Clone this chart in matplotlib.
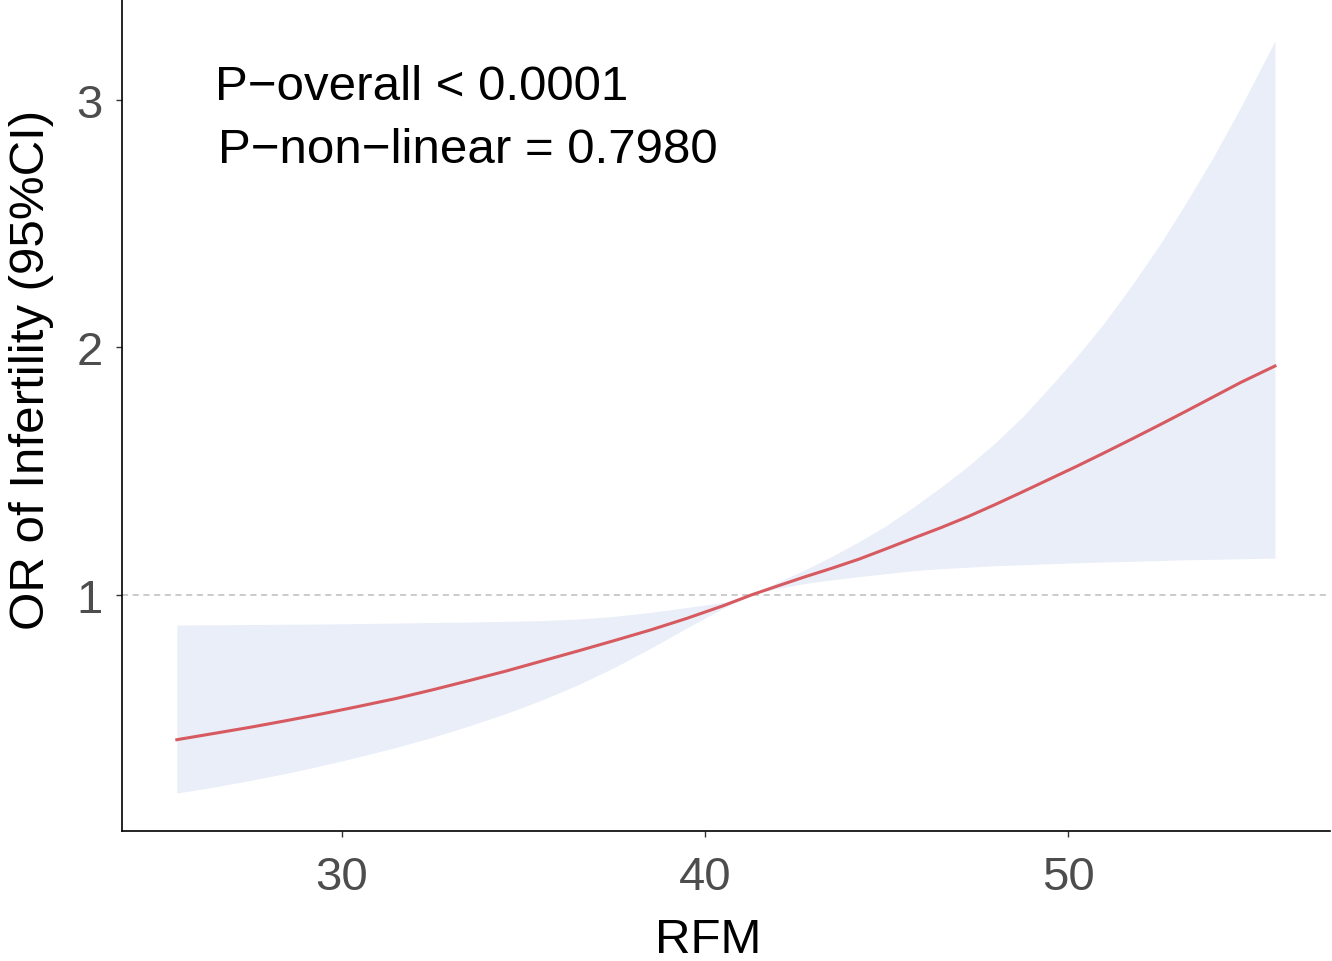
import matplotlib.pyplot as plt

# values
rfm = [25.45, 26.5, 27.5, 28.5, 29.5, 30.5, 31.5, 32.5, 33.5, 34.5, 35.5, 36.5,
       37.5, 38.5, 39.5, 40.5, 41.3, 42, 42.75, 43.5, 44.25, 45, 45.75, 46.5,
       47.25, 48, 48.75, 49.5, 50.25, 51, 51.75, 52.5, 53.25, 54, 54.75, 55.7]
odds = [0.413, 0.439, 0.464, 0.491, 0.519, 0.549, 0.580, 0.615, 0.652, 0.690, 0.731, 0.772,
        0.814, 0.857, 0.904, 0.955, 1.000, 1.035, 1.072, 1.107, 1.144, 1.186, 1.229, 1.271,
        1.316, 1.365, 1.416, 1.468, 1.520, 1.574, 1.629, 1.685, 1.742, 1.800, 1.858, 1.925]
lower = [0.197, 0.222, 0.249, 0.278, 0.310, 0.345, 0.382, 0.423, 0.469, 0.518, 0.573, 0.635,
         0.705, 0.783, 0.865, 0.945, 1.000, 1.025, 1.045, 1.060, 1.073, 1.085, 1.097, 1.105,
         1.111, 1.117, 1.121, 1.125, 1.129, 1.132, 1.135, 1.138, 1.141, 1.143, 1.145, 1.148]
upper = [0.877, 0.878, 0.879, 0.880, 0.881, 0.883, 0.885, 0.887, 0.889, 0.892, 0.895, 0.901,
         0.912, 0.928, 0.948, 0.968, 1.000, 1.050, 1.100, 1.155, 1.215, 1.280, 1.355, 1.435,
         1.520, 1.615, 1.720, 1.840, 1.965, 2.100, 2.250, 2.410, 2.585, 2.770, 2.970, 3.240]

p_text = ["P\u2212overall < 0.0001", "P\u2212non\u2212linear = 0.7980"]

plt.rcParams['font.family'] = ['Liberation Sans', 'DejaVu Sans']

fig = plt.figure(figsize=(13.32, 9.62), dpi=100)
ax = fig.add_axes([0.0916, 0.1355, 0.907, 0.8645])

ax.fill_between(rfm, lower, upper, color='#E9EEF8', linewidth=0)
ax.axhline(1, color='#BDBDBD', linestyle=(0, (4, 3)), linewidth=1.1)
ax.plot(rfm, odds, color='#D65A60', linewidth=2.2)

ax.text(26.5, 3.055, p_text[0], fontsize=35.5, ha='left', va='center')
ax.text(26.58, 2.80, p_text[1], fontsize=35.5, ha='left', va='center')

ax.set_xlim(23.94, 57.22)
ax.set_ylim(0.045, 3.41)
ax.set_xticks([30, 40, 50])
ax.set_yticks([1, 2, 3])
ax.tick_params(labelsize=34, labelcolor='#4D4D4D', color='#333333', length=4, width=1)
ax.tick_params(axis='x', pad=13.5)
ax.tick_params(axis='y', pad=10)
ax.set_xlabel('RFM', fontsize=35.5)
ax.set_ylabel('OR of Infertility (95%CI)', fontsize=35.5)
ax.xaxis.set_label_coords(0.4855, -0.104)
ax.yaxis.set_label_coords(-0.0565, 0.555)

for s in ['top', 'right']:
    ax.spines[s].set_visible(False)
for s in ['left', 'bottom']:
    ax.spines[s].set_linewidth(1.2)

fig.savefig('out.png', dpi=100)
